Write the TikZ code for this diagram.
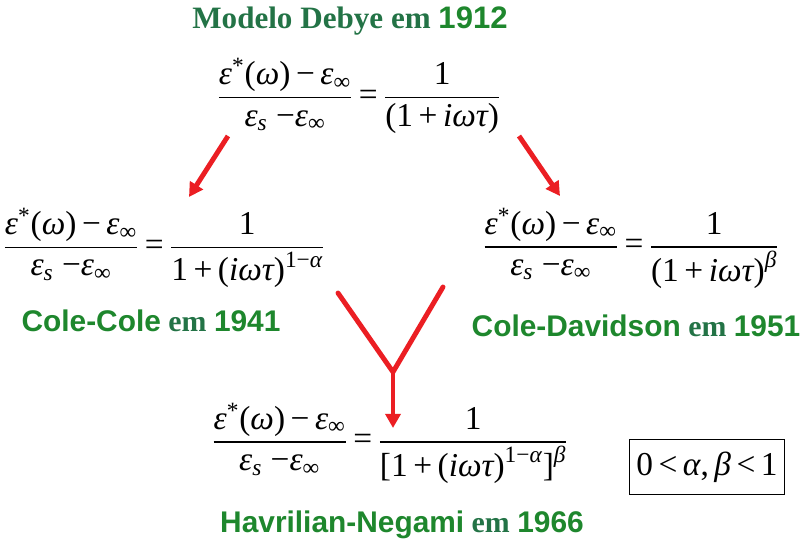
\documentclass[tikz,border=0pt]{standalone}
\usepackage{amsmath}
\usepackage{fontspec}
\setmainfont{Liberation Serif}
\newfontfamily\timesfont{Liberation Serif}
\newfontfamily\arialfont{Liberation Sans}
\usetikzlibrary{arrows.meta,positioning}
\definecolor{labelgreen}{RGB}{30,135,45}
\definecolor{emgreen}{RGB}{35,115,70}
\definecolor{arrowred}{RGB}{235,30,35}

% Times-like math pieces
\newcommand{\eqit}[1]{\text{\timesfont\itshape #1}}
\newcommand{\eqrm}[1]{\text{\timesfont\upshape #1}}
\newcommand{\eqlhs}{\dfrac{\eqit{ε}^{\eqrm{*}}\eqrm{(}\eqit{ω}\eqrm{)\,−\,}\eqit{ε}_{\eqrm{∞}}}%
  {\eqit{ε}_{\eqit{s}}\eqrm{\ −}\eqit{ε}_{\eqrm{∞}}}\eqrm{\,=\,}}
% mixed label: sans name, serif "em", sans year
\newcommand{\modelname}[2]{{\arialfont\bfseries #1} {\color{emgreen}\timesfont\bfseries em} {\arialfont\bfseries #2}}

\begin{document}
\begin{tikzpicture}[
      x=0.02cm, y=-0.02cm,
      eqn/.style={inner sep=1pt, font=\timesfont\fontsize{19}{23}\selectfont},
      lbl/.style={text=labelgreen, inner sep=1pt, font=\fontsize{17}{20}\selectfont},
      redarrow/.style={arrowred, line width=2.8pt, -{Triangle[length=8pt, width=8.5pt]}},
      redline/.style={arrowred, line width=2.8pt, line cap=round}
    ]
    \useasboundingbox (0,0) rectangle (808,550);

    % Debye
    \node[lbl, font=\fontsize{17.7}{20}\selectfont] (debyelbl) at (350,21)
      {{\color{emgreen}\timesfont\bfseries Modelo Debye em} {\arialfont\bfseries 1912}};
    \node[eqn] (debye) at (359,96)
      {$\displaystyle\eqlhs\frac{\eqrm{1}}{\eqrm{(1\,+\,}\eqit{iωτ}\eqrm{)}}$};

    % Cole-Cole and Cole-Davidson
    \node[eqn] (cc) at (164,248)
      {$\displaystyle\eqlhs\frac{\eqrm{1}}{\eqrm{1\,+\,(}\eqit{iωτ}\eqrm{)}^{\eqrm{1−}\eqit{α}}}$};
    \node[lbl] (cclbl) at (151,321) {\modelname{Cole-Cole}{1941}};
    \node[eqn] (cd) at (631,248)
      {$\displaystyle\eqlhs\frac{\eqrm{1}}{\eqrm{(1\,+\,}\eqit{iωτ}\eqrm{)}^{\eqit{β}}}$};
    \node[lbl] (cdlbl) at (636,326) {\modelname{Cole-Davidson}{1951}};

    % Havriliak-Negami
    \node[eqn] (hn) at (390,443)
      {$\displaystyle\eqlhs\frac{\eqrm{1}}{\eqrm{[1\,+\,(}\eqit{iωτ}\eqrm{)}^{\eqrm{1−}\eqit{α}}\eqrm{]}^{\eqit{β}}}$};
    \node[draw, line width=0.6pt, inner xsep=4pt, inner ysep=7pt, font=\timesfont\fontsize{19}{23}\selectfont] (range) at (707,467)
      {$\eqrm{0\,<\,}\eqit{α}\eqrm{,\,}\eqit{β}\eqrm{\,<\,1}$};
    \node[lbl] (hnlbl) at (402,525) {\modelname{Havrilian-Negami}{1966}};

    % arrows
    \coordinate (lstart) at (228,136);
    \coordinate (lend) at (189,197);
    \coordinate (rstart) at (519,136);
    \coordinate (rend) at (560,196);
    \coordinate (yleft) at (338,293);
    \coordinate (yright) at (443,287);
    \coordinate (yjoin) at (393,372);
    \coordinate (yend) at (393,428);
    \draw[redarrow] (lstart) -- (lend);
    \draw[redarrow] (rstart) -- (rend);
    \draw[redline] (yleft) -- (yjoin) -- (yright);
    \draw[redarrow] (yjoin) -- (yend);
  \end{tikzpicture}
\end{document}
